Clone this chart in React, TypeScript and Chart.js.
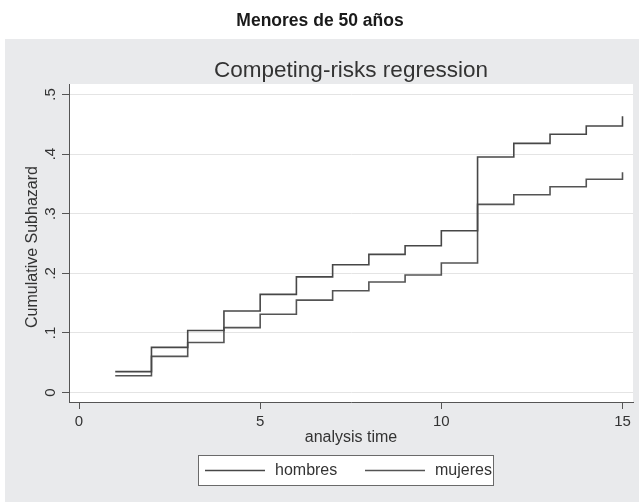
import React, { useEffect, useRef } from "react";
import { Chart, registerables } from "chart.js";

Chart.register(...registerables);

// Cumulative subhazard by sex, stepped at each analysis time
const times = [1, 2, 3, 4, 5, 6, 7, 8, 9, 10, 11, 12, 13, 14, 15];
const hombres = [0.035, 0.0758, 0.104, 0.1367, 0.1647, 0.194, 0.2144, 0.2318, 0.2463, 0.2715, 0.3951, 0.418, 0.4332, 0.4471, 0.4634];
const mujeres = [0.0282, 0.0607, 0.084, 0.1088, 0.1312, 0.155, 0.1708, 0.1854, 0.1971, 0.2173, 0.3157, 0.3319, 0.3453, 0.3577, 0.3694];

const seriesNames = ["hombres", "mujeres"];
const seriesColors = ["#474747", "#545454"];

const xTicks = [0, 5, 10, 15];
const xTickLabels = ["0", "5", "10", "15"];
const yTicks = [0, 0.1, 0.2, 0.3, 0.4, 0.5];
const yTickLabels = ["0", ".1", ".2", ".3", ".4", ".5"];

const pageTitle = "Menores de 50 años";
const chartTitle = "Competing-risks regression";
const xTitle = "analysis time";
const yTitle = "Cumulative Subhazard";

const W = 639;
const H = 502;
const FONT = "'Liberation Sans', Arial, sans-serif";

const decorations = {
  id: "stataDecor",
  beforeDraw(chart: any) {
    const { ctx, chartArea } = chart;
    ctx.save();
    ctx.fillStyle = "#ffffff";
    ctx.fillRect(0, 0, W, H);
    ctx.fillStyle = "#e9eaec";
    ctx.fillRect(5, 39, W - 5, H - 39);
    ctx.fillStyle = "#ffffff";
    ctx.fillRect(chartArea.left, chartArea.top, chartArea.right - chartArea.left, chartArea.bottom - chartArea.top);
    ctx.restore();
  },
  afterDraw(chart: any) {
    const { ctx, chartArea, scales } = chart;
    const xs = scales.x;
    const ys = scales.y;
    const cx = (chartArea.left + chartArea.right) / 2;
    ctx.save();
    ctx.fillStyle = "#1a1a1a";
    ctx.textAlign = "center";
    ctx.textBaseline = "alphabetic";
    ctx.font = `bold 17.5px ${FONT}`;
    ctx.fillText(pageTitle, 320, 26);

    ctx.fillStyle = "#333333";
    ctx.font = `22.5px ${FONT}`;
    ctx.fillText(chartTitle, cx, 77);

    // x tick labels
    ctx.font = `15px ${FONT}`;
    ctx.textBaseline = "middle";
    xTicks.forEach((v, i) => {
      ctx.fillText(xTickLabels[i], xs.getPixelForValue(v), 422);
    });

    // x axis title
    ctx.font = `16px ${FONT}`;
    ctx.fillText(xTitle, cx, 438);

    // y tick labels, rotated
    ctx.font = `15px ${FONT}`;
    yTicks.forEach((v, i) => {
      ctx.save();
      ctx.translate(51, ys.getPixelForValue(v));
      ctx.rotate(-Math.PI / 2);
      ctx.fillText(yTickLabels[i], 0, 0);
      ctx.restore();
    });

    // y axis title
    ctx.save();
    ctx.font = `16px ${FONT}`;
    ctx.translate(33, (chartArea.top + chartArea.bottom) / 2 + 4);
    ctx.rotate(-Math.PI / 2);
    ctx.fillText(yTitle, 0, 0);
    ctx.restore();

    // legend box
    const lx = 198.5, ly = 455.5, lw = 295, lh = 30;
    ctx.fillStyle = "#ffffff";
    ctx.fillRect(lx, ly, lw, lh);
    ctx.strokeStyle = "#6a6a6a";
    ctx.lineWidth = 1;
    ctx.strokeRect(lx, ly, lw, lh);
    const entries = [
      { x0: 205, x1: 265, tx: 275 },
      { x0: 365, x1: 425, tx: 435 },
    ];
    ctx.font = `16px ${FONT}`;
    ctx.textAlign = "left";
    ctx.textBaseline = "middle";
    chart.data.datasets.forEach((ds: any, i: number) => {
      const e = entries[i];
      ctx.strokeStyle = ds.borderColor;
      ctx.lineWidth = 1.6;
      ctx.beginPath();
      ctx.moveTo(e.x0, 470.5);
      ctx.lineTo(e.x1, 470.5);
      ctx.stroke();
      ctx.fillStyle = "#333333";
      ctx.fillText(ds.label, e.tx, 471);
    });
    ctx.restore();
  },
};

export default function App() {
  const ref = useRef<HTMLCanvasElement | null>(null);

  useEffect(() => {
    if (!ref.current) return;
    const chart = new Chart(ref.current, {
      type: "line",
      data: {
        datasets: [hombres, mujeres].map((vals, i) => ({
          label: seriesNames[i],
          data: times.map((t, j) => ({ x: t, y: vals[j] })),
          borderColor: seriesColors[i],
          borderWidth: 1.6,
          pointRadius: 0,
          stepped: "before" as const,
          fill: false,
        })),
      },
      options: {
        responsive: false,
        animation: false,
        layout: { padding: { left: 0, right: 6, top: 84, bottom: 0 } },
        plugins: {
          legend: { display: false },
          tooltip: { enabled: false },
          title: { display: false },
        },
        scales: {
          x: {
            type: "linear",
            min: -0.276,
            max: 15.29,
            afterBuildTicks: (s: any) => {
              s.ticks = xTicks.map((v) => ({ value: v }));
            },
            afterFit: (s: any) => {
              s.height = 100;
            },
            ticks: { display: false },
            grid: {
              drawOnChartArea: false,
              drawTicks: true,
              tickLength: 7,
              tickColor: "#555555",
              tickWidth: 1,
            },
            border: { display: true, color: "#555555", width: 1 },
          },
          y: {
            type: "linear",
            min: -0.0159,
            max: 0.5176,
            afterBuildTicks: (s: any) => {
              s.ticks = yTicks.map((v) => ({ value: v }));
            },
            afterFit: (s: any) => {
              s.width = 69;
            },
            ticks: { display: false },
            grid: {
              drawOnChartArea: true,
              color: "#e4e4e4",
              lineWidth: 1,
              drawTicks: true,
              tickLength: 7,
              tickColor: "#555555",
              tickWidth: 1,
            },
            border: { display: true, color: "#555555", width: 1 },
          },
        },
      },
      plugins: [decorations],
    });
    return () => chart.destroy();
  }, []);

  return (
    <div style={{ position: "absolute", left: 0, top: 0, width: W, height: H }}>
      <canvas ref={ref} width={W} height={H} style={{ display: "block" }} />
    </div>
  );
}
